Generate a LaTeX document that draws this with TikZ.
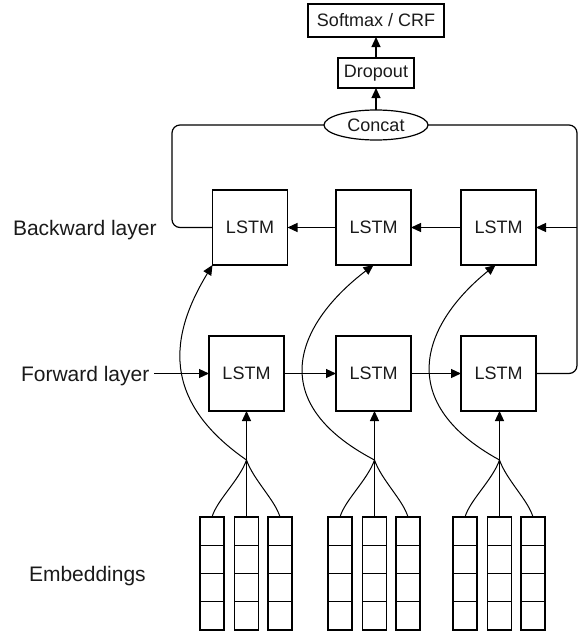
\documentclass[tikz,border=0pt]{standalone}
\usepackage{fontspec}
\setmainfont{Liberation Sans}
\usetikzlibrary{arrows.meta,shapes.geometric}
\definecolor{ink}{HTML}{1A1A1A}
\begin{document}
\begin{tikzpicture}[x=1pt,y=-1pt,
  every node/.style={inner sep=0pt, outer sep=0pt, text=ink},
  box/.style={draw, line width=1.2pt, font=\fontsize{18}{20}\selectfont},
  lstm/.style={box, minimum width=75pt, minimum height=75pt},
  cell/.style={draw, line width=1.2pt, minimum width=24pt, minimum height=28.25pt},
  lbl/.style={font=\fontsize{21}{24}\selectfont, anchor=base west},
  conn/.style={line width=1.2pt},
  arr/.style={conn, -{Triangle[length=10pt,width=9pt]}},
  fan/.style={line width=1pt}
]
\useasboundingbox (0,0) rectangle (580,632);
% top
\node[box, minimum width=136pt, minimum height=33pt] (soft) at (376,20.5) {Softmax / CRF};
\node[box, minimum width=76pt, minimum height=30pt] (drop) at (376,73) {Dropout};
\node[box, ellipse, minimum width=104pt, minimum height=30pt] (concat) at (376,125) {Concat};
\draw[arr] (concat.north) -- (drop.south);
\draw[arr] (drop.north) -- (soft.south);
% LSTM rows
\node[lstm] (b1) at (250,227.5) {LSTM};
\node[lstm] (b2) at (373.5,227.5) {LSTM};
\node[lstm] (b3) at (498.5,227.5) {LSTM};
\node[lstm] (f1) at (246.5,373.5) {LSTM};
\node[lstm] (f2) at (373.5,373.5) {LSTM};
\node[lstm] (f3) at (498.5,373.5) {LSTM};
% labels
\node[lbl] (blab) at (13,235) {Backward layer};
\node[lbl] (flab) at (21,381) {Forward layer};
\node[lbl] (elab) at (29,581.5) {Embeddings};
% recurrent connections
\draw[arr] (b3.west) -- (b2.east);
\draw[arr] (b2.west) -- (b1.east);
\draw[arr] (f1.east) -- (f2.west);
\draw[arr] (f2.east) -- (f3.west);
\coordinate (fl) at ([xshift=5pt]flab.east);
\draw[arr] (fl |- f1.west) -- (f1.west);
% concat routing
\draw[conn, rounded corners=8pt] (concat.west) -- (172,125) -- (172,227.5) -- (b1.west);
\draw[conn, rounded corners=8pt] (concat.east) -- (577,125) -- (577,373.5) -- (f3.east);
\coordinate (rb) at (577,227.5);
\draw[arr] (rb) -- (b3.east);
% embeddings
\foreach \g/\gx in {1/246.5,2/374.5,3/499.5}{
  \foreach \c/\dx in {1/-34.5,2/0,3/33.5}{
    \foreach \r in {1,2,3,4}{
      \node[cell] (e\g\c\r) at ({\gx+\dx},{517+28.25*\r-14.125}) {};
    }
  }
  \coordinate (j\g) at (\gx,460);
}
\foreach \g in {1,2,3}{
  \draw[fan] (j\g) .. controls ([shift={(-7,20)}]j\g) and ([shift={(5,-17)}]e\g11.north) .. (e\g11.north);
  \draw[fan] (j\g) -- (e\g21.north);
  \draw[fan] (j\g) .. controls ([shift={(7,20)}]j\g) and ([shift={(-5,-17)}]e\g31.north) .. (e\g31.north);
}
\draw[arr] (j1) -- (j1 |- f1.south);
\draw[arr] (j2) -- (j2 |- f2.south);
\draw[arr] (j3) -- (j3 |- f3.south);
% skip connections to backward layer
\draw[arr, line width=1pt] (j1) .. controls (160,400) and (170,335) .. (b1.south west);
\draw[arr, line width=1pt] (j2) .. controls (260,400) and (300,321) .. (b2.south);
\draw[arr, line width=1pt] (j3) .. controls (390,400) and (426,321) .. ([xshift=-3pt]b3.south);
\end{tikzpicture}
\end{document}
